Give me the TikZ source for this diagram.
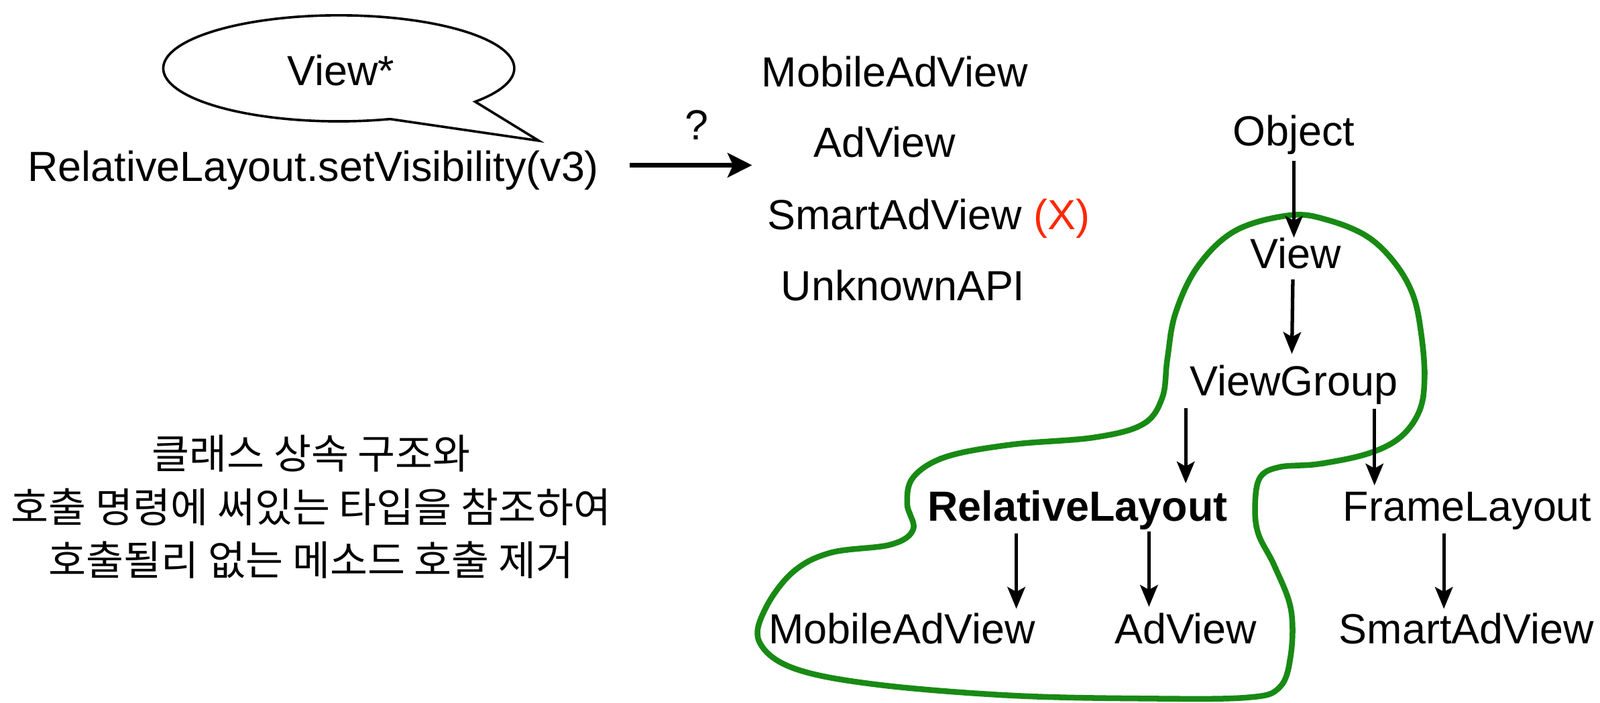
\documentclass[tikz,border=0pt]{standalone}
\usepackage{fontspec}
\setmainfont{Liberation Sans}
\newfontfamily\krfont{Noto Sans CJK KR}
\usetikzlibrary{arrows.meta,calc,decorations.pathmorphing}
\definecolor{blobgreen}{RGB}{24,138,20}
\definecolor{xred}{RGB}{255,40,0}
\begin{document}
\begin{tikzpicture}[x=0.75pt,y=-0.75pt,
  lbl/.style={font=\fontsize{31}{37}\selectfont, inner sep=0pt, anchor=base},
  harr/.style={line width=2.6pt,-{Stealth[length=16pt,width=13pt,inset=3.5pt]}},
  bigarr/.style={line width=3pt,-{Stealth[length=18pt,width=18pt,inset=4pt]}},
  bubble/.style={draw, line width=1.8pt, line join=miter},
  blob/.style={draw=blobgreen, line width=4.2pt, line join=round,
    postaction={draw=blobgreen, line width=1.2pt, decorate,
      decoration={random steps, segment length=3pt, amplitude=1.6pt}}}]
\fill[white] (0,0) rectangle (1568,689);
\useasboundingbox (0,0) rectangle (1568,689);

% speech bubble
\draw[bubble] plot[domain=73:399,samples=140,variable=\t] ({332+172*cos(\t)},{67+52*sin(\t)}) -- (528,138) -- cycle;
\node[lbl] (vstar) at (334,84) {View*};

% call
\node[lbl] (call) at (307,178) {RelativeLayout.setVisibility(v3)};
\coordinate (astart) at (617,162);
\coordinate (aend) at (737,162);
\draw[bigarr] (astart) -- (aend);
\node[lbl] (q) at (683,137) {?};

% candidates
\node[lbl] (c1) at (877,85) {MobileAdView};
\node[lbl] (c2) at (867,154) {AdView};
\node[lbl] (c3) at (910,225) {SmartAdView {\color{xred}(X)}};
\node[lbl] (c4) at (885,295) {UnknownAPI};

% green blob
\draw[blob] plot[smooth cycle, tension=0.6] coordinates {
 (1265,211) (1302,216) (1340,232) (1367,258) (1385,290) (1393,329) (1396,371)
 (1391,403) (1372,429) (1340,445) (1292,455) (1254,458) (1235,468) (1230,494)
 (1233,523) (1249,555) (1265,597) (1265,642) (1254,674) (1222,684) (1125,685)
 (991,682) (857,671) (777,655) (744,629) (750,597) (777,561) (814,542)
 (873,534) (895,519) (889,494) (895,468) (927,448) (991,436) (1072,429)
 (1120,416) (1139,390) (1144,352) (1152,307) (1174,261) (1211,226)};

% hierarchy
\node[lbl] (obj) at (1268,143) {Object};
\node[lbl] (view) at (1270,263) {View};
\node[lbl] (vg) at (1268,388) {ViewGroup};
\node[lbl] (rl) at (1056,511) {\bfseries RelativeLayout};
\node[lbl] (fl) at (1438,511) {FrameLayout};
\node[lbl] (mav) at (884,631) {MobileAdView};
\node[lbl] (av) at (1162,631) {AdView};
\node[lbl] (sav) at (1437,631) {SmartAdView};

\draw[harr] ($(obj.base)+(0,15)$) -- ($(view.base)+(-2,-30)$);
\draw[harr] ($(view.base)+(-3,11)$) -- ($(vg.base)+(-2,-41)$);
\draw[harr] ($(vg.base)+(-106,12)$) -- ($(rl.base)+(106,-37)$);
\draw[harr] ($(vg.base)+(79,13)$) -- ($(fl.base)+(-91,-35)$);
\draw[harr] ($(rl.base)+(-60,12)$) -- ($(mav.base)+(112,-34)$);
\draw[harr] ($(rl.base)+(70,10)$) -- ($(av.base)+(-36,-36)$);
\draw[harr] ($(fl.base)+(-23,12)$) -- ($(sav.base)+(-22,-34)$);

% korean text
\node[font=\krfont\fontsize{30}{39}\selectfont, align=center, inner sep=0pt] (kr) at (305,497)
 {클래스 상속 구조와\\호출 명령에 써있는 타입을 참조하여\\호출될리 없는 메소드 호출 제거};
\end{tikzpicture}
\end{document}
